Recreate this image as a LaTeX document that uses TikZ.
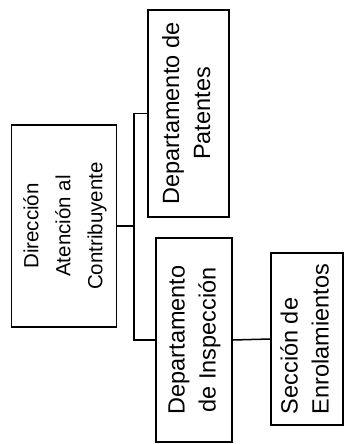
\documentclass[tikz,border=0pt]{standalone}
\usepackage{fontspec}
\usepackage{graphicx}
\setmainfont{Liberation Sans}
\begin{document}
\begin{tikzpicture}[x=1pt,y=1pt,
  box/.style={draw=black, line width=1.6pt, inner sep=0pt, fill=white},
  link/.style={draw=black, line width=1.5pt},
  big/.style={font=\fontsize{23.5}{31}\selectfont},
  small/.style={font=\fontsize{20.5}{32}\selectfont}]
\useasboundingbox (0,0) rectangle (345,444);
\node[box, small, minimum width=105pt, minimum height=202pt] (dir) at (64,218)
  {\rotatebox{90}{\begin{tabular}{@{}c@{}}Dirección\\Atención al\\Contribuyente\end{tabular}}};
\node[box, big, minimum width=81pt, minimum height=207pt] (pat) at (188.5,330.5)
  {\rotatebox{90}{\begin{tabular}{@{}c@{}}Departamento de\\Patentes\end{tabular}}};
\node[box, big, minimum width=76pt, minimum height=204pt] (insp) at (194,104)
  {\rotatebox{90}{\begin{tabular}{@{}c@{}}Departamento\\de Inspección\end{tabular}}};
\node[box, big, minimum width=72pt, minimum height=172pt] (enr) at (307,105)
  {\rotatebox{90}{\begin{tabular}{@{}l@{}}Sección de\\Enrolamientos\end{tabular}}};
\coordinate (bus) at (134,218);
\draw[link] (dir.east) -- (dir.east -| bus);
\draw[link] (pat.west) -- (pat.west -| bus) -- (insp.west -| bus) -- (insp.west);
\draw[link] (insp.east) -- (enr.west);
\end{tikzpicture}
\end{document}
